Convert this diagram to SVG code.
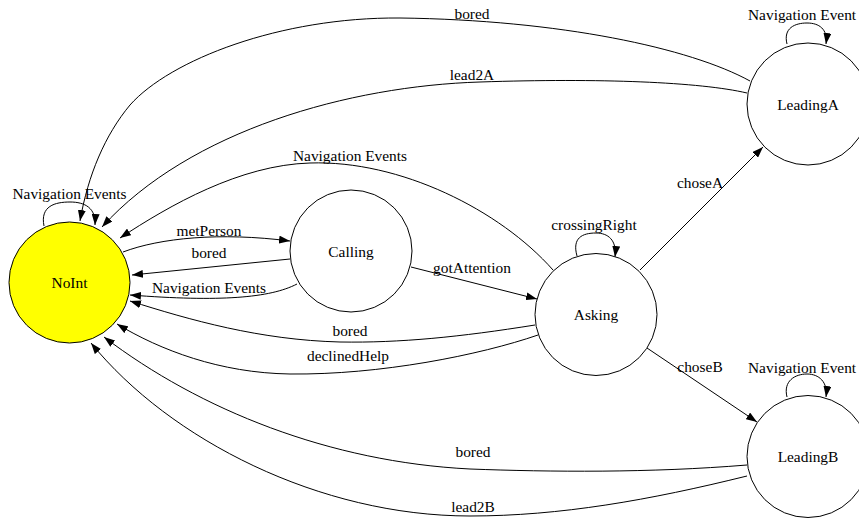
<svg xmlns="http://www.w3.org/2000/svg" width="859" height="518" viewBox="0 0 859 518">
<style>
text{font-family:"Liberation Serif","Times New Roman",serif;font-size:15.4px;fill:#000;text-anchor:middle}
.node{fill:#fff;stroke:#000;stroke-width:1}
.edge{fill:none;stroke:#000;stroke-width:1;marker-end:url(#ah)}
</style>
<defs>
<marker id="ah" markerWidth="11" markerHeight="8" refX="11" refY="4" orient="auto" markerUnits="userSpaceOnUse"><path d="M0,0 L11,4 L0,8 z" fill="#000"/></marker>
</defs>
<rect width="859" height="518" fill="#fff"/>
<g id="connectors">
<g id="e-noint-self"><path class="edge" d="M44,226 C40,206 55,202 70,202 C85,202 96,208 95,225"/><text x="69.5" y="199">Navigation Events</text></g>
<g id="e-metPerson"><path class="edge" d="M123,252 C160,238 220,232 290,241"/><text x="209" y="236">metPerson</text></g>
<g id="e-calling-bored"><path class="edge" d="M290,259 L132,275"/><text x="209" y="258">bored</text></g>
<g id="e-calling-nav"><path class="edge" d="M297,284 C270,298 220,302 130,295"/><text x="209" y="293">Navigation Events</text></g>
<g id="e-gotAttention"><path class="edge" d="M411,267 L537,299"/><text x="472" y="273">gotAttention</text></g>
<g id="e-asking-nav"><path class="edge" d="M553,270 C500,210 400,160 310,163 C240,165 170,205 120,238"/><text x="350" y="161">Navigation Events</text></g>
<g id="e-leadingA-bored"><path class="edge" d="M750,81 C690,48 560,20 400,18 C280,17 170,60 130,105 C105,135 88,175 80,221"/><text x="472" y="19">bored</text></g>
<g id="e-lead2A"><path class="edge" d="M747,93 C700,82 600,78 480,82 C350,86 190,130 102,227"/><text x="472" y="80">lead2A</text></g>
<g id="e-asking-bored"><path class="edge" d="M535,325 C460,337 400,343 340,342 C260,340 190,320 130,301"/><text x="350" y="336">bored</text></g>
<g id="e-declinedHelp"><path class="edge" d="M538,335 C480,355 380,375 290,374 C220,373 160,350 117,324"/><text x="348" y="361">declinedHelp</text></g>
<g id="e-leadingB-bored"><path class="edge" d="M747,465 C650,473 550,472 470,469 C330,462 200,410 104,337"/><text x="473" y="457">bored</text></g>
<g id="e-lead2B"><path class="edge" d="M747,476 C650,500 560,516 470,516 C320,516 170,440 91,343"/><text x="473" y="512">lead2B</text></g>
<g id="e-asking-self"><path class="edge" d="M577,256 C572,238 582,233 596,233 C608,233 617,240 615,257"/><text x="594" y="230">crossingRight</text></g>
<g id="e-choseA"><path class="edge" d="M640,270 L763,147"/><text x="700" y="188">choseA</text></g>
<g id="e-choseB"><path class="edge" d="M647,348 L757,422"/><text x="700" y="372">choseB</text></g>
<g id="e-leadingA-self"><path class="edge" d="M787,44 C783,28 795,23 807,23 C819,23 828,29 826,44"/><text x="748" y="20" style="text-anchor:start">Navigation Event</text></g>
<g id="e-leadingB-self"><path class="edge" d="M787,397 C783,381 795,374 807,374 C819,374 828,382 826,397"/><text x="748" y="373" style="text-anchor:start">Navigation Event</text></g>
</g>
<g id="NoInt"><circle class="node" cx="69.5" cy="282.5" r="60.5" style="fill:#ffff00"/><text x="69.5" y="288">NoInt</text></g>
<g id="Calling"><circle class="node" cx="351" cy="251" r="61"/><text x="351" y="256.5">Calling</text></g>
<g id="Asking"><circle class="node" cx="596" cy="314.5" r="61"/><text x="596" y="320">Asking</text></g>
<g id="LeadingA"><circle class="node" cx="808" cy="104" r="61"/><text x="808" y="110">LeadingA</text></g>
<g id="LeadingB"><circle class="node" cx="808" cy="456.5" r="61"/><text x="808" y="462">LeadingB</text></g>
</svg>
